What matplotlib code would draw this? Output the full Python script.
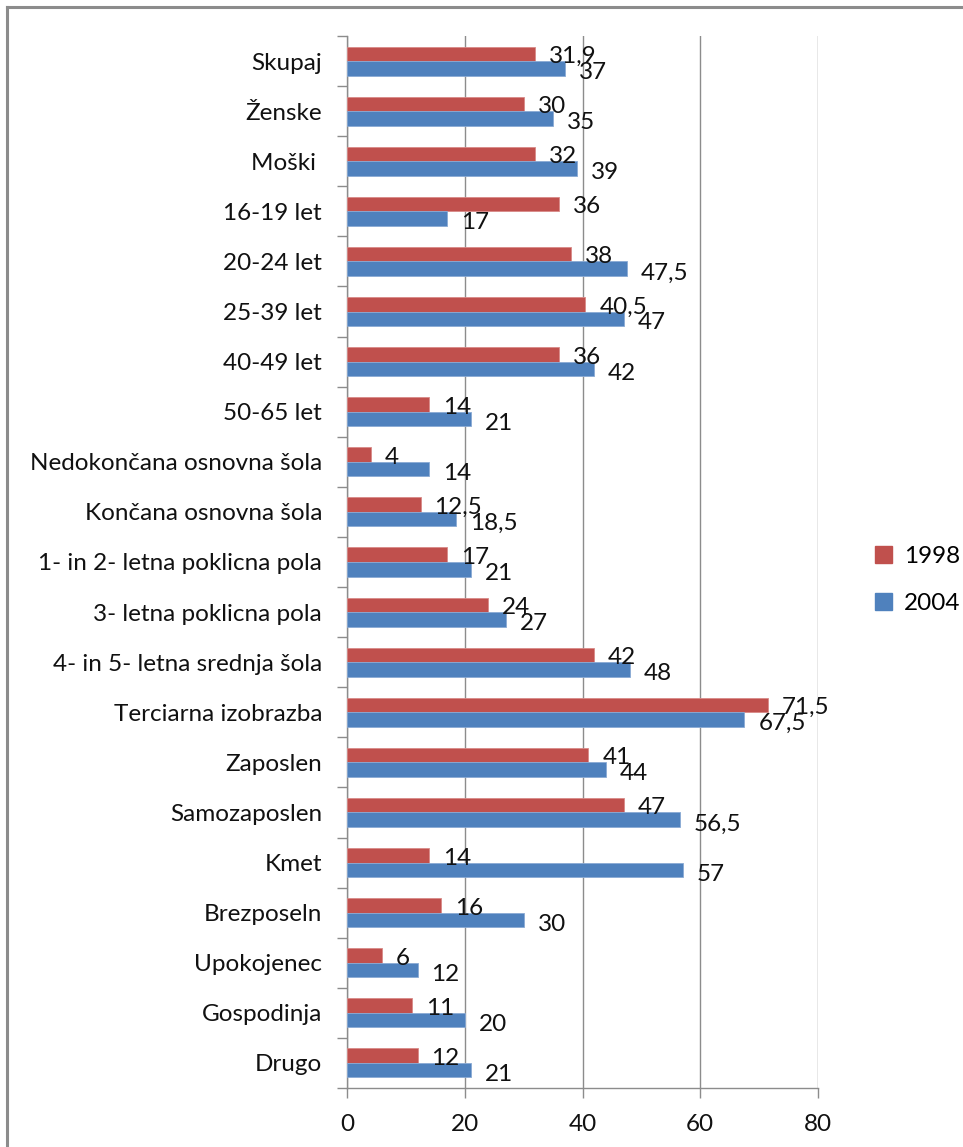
import matplotlib
matplotlib.use("Agg")
import matplotlib.pyplot as plt
from matplotlib.lines import Line2D
from matplotlib.patches import Patch
import numpy as np

plt.rcParams['font.family'] = ['Lato', 'DejaVu Sans']

# Data
categories = [
    "Skupaj", "Ženske", "Moški ", "16-19 let", "20-24 let", "25-39 let",
    "40-49 let", "50-65 let", "Nedokončana osnovna šola",
    "Končana osnovna šola", "1- in 2- letna poklicna pola",
    "3- letna poklicna pola", "4- in 5- letna srednja šola",
    "Terciarna izobrazba", "Zaposlen", "Samozaposlen", "Kmet",
    "Brezposeln", "Upokojenec", "Gospodinja", "Drugo",
]
values_1998 = [31.9, 30, 32, 36, 38, 40.5, 36, 14, 4, 12.5, 17, 24, 42,
               71.5, 41, 47, 14, 16, 6, 11, 12]
values_2004 = [37, 35, 39, 17, 47.5, 47, 42, 21, 14, 18.5, 21, 27, 48,
               67.5, 44, 56.5, 57, 30, 12, 20, 21]
series_names = ["1998", "2004"]
x_ticks = [0, 20, 40, 60, 80]

RED = "#C0504D"
BLUE = "#4F81BD"
GRID = "#8C8C8C"
FS = 17.5


def fmt(v):
    if float(v).is_integer():
        return str(int(v))
    return ("%g" % v).replace(".", ",")


W, H = 963, 1147
fig = plt.figure(figsize=(W / 100, H / 100), dpi=100)
ax = fig.add_axes([347 / W, 1 - 1088 / H, (818 - 347) / W, (1088 - 36) / H])

y = np.arange(len(categories))
h = 0.29
ax.barh(y - h / 2, values_1998, height=h, color=RED, edgecolor="#D88A88",
        linewidth=0.6, zorder=3)
ax.barh(y + h / 2, values_2004, height=h, color=BLUE, edgecolor="#8AAAD4",
        linewidth=0.6, zorder=3)

for yi, v in zip(y, values_1998):
    ax.annotate(fmt(v), (v, yi - h / 2), xytext=(10, -2),
                textcoords="offset points", va="center", ha="left",
                fontsize=FS, color="#111111", zorder=4)
for yi, v in zip(y, values_2004):
    ax.annotate(fmt(v), (v, yi + h / 2), xytext=(10, -3),
                textcoords="offset points", va="center", ha="left",
                fontsize=FS, color="#111111", zorder=4)

ax.set_xlim(0, 80)
ax.set_ylim(len(categories) - 0.5, -0.5)
ax.set_xticks(x_ticks)
ax.set_xticklabels([str(t) for t in x_ticks], fontsize=FS, color="#111111")
ax.set_yticks(y)
ax.set_yticklabels(categories, fontsize=FS, color="#111111")
ax.set_yticks(np.arange(len(categories) + 1) - 0.5, minor=True)
ax.tick_params(axis="y", which="major", length=0, pad=18)
ax.tick_params(axis="y", which="minor", length=7, color=GRID, width=1)
ax.tick_params(axis="x", length=7, color=GRID, width=1, pad=12)

ax.grid(axis="x", color=GRID, linewidth=1, zorder=0)
for s in ["top", "right"]:
    ax.spines[s].set_visible(False)
for s in ["left", "bottom"]:
    ax.spines[s].set_color(GRID)
    ax.spines[s].set_linewidth(1)

handles = [Patch(facecolor=RED, edgecolor=RED), Patch(facecolor=BLUE, edgecolor=BLUE)]
fig.legend(handles, series_names, loc="center left",
           bbox_to_anchor=(853 / W, 1 - 580 / H), frameon=False,
           fontsize=FS, handlelength=0.7, handleheight=0.7,
           handletextpad=0.5, labelspacing=1.1)

# outer chart border (top and left edges visible)
fig.add_artist(Line2D([7 / W, 1], [1 - 7 / H, 1 - 7 / H], color="#8C8C8C",
                      linewidth=2.2, transform=fig.transFigure))
fig.add_artist(Line2D([7 / W, 7 / W], [0, 1 - 7 / H], color="#8C8C8C",
                      linewidth=2.2, transform=fig.transFigure))

fig.savefig("out.png", dpi=100)
